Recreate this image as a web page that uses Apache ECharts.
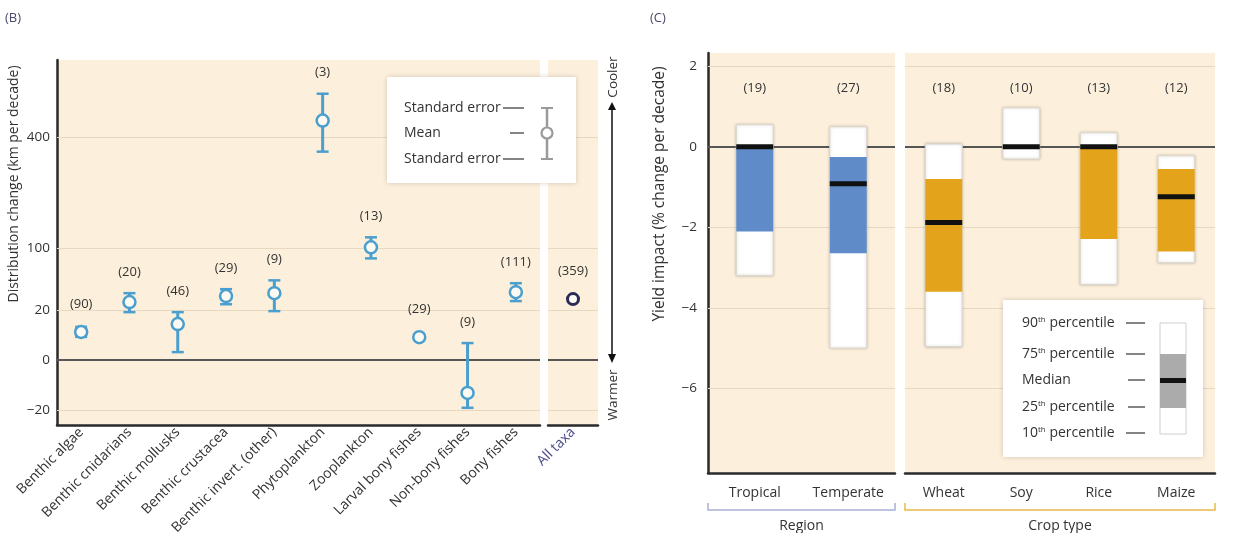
<!DOCTYPE html>
<html style="width: 100%;height:100%;">
<head>
    <meta charset="utf-8">
    <title>Distribution change and yield impact</title>
    <script src="https://cdn.jsdelivr.net/npm/echarts@6/dist/echarts.min.js"></script>
    <style>
        html, body { margin: 0; padding: 0; background: #ffffff; }
        #chart { width: 1240px; height: 533px; }
    </style>
</head>
<body>
<div id="chart"></div>
<script>
    // panel B: distribution change (km per decade), drawn on a signed sqrt scale
    const catsB = ['Benthic algae', 'Benthic cnidarians', 'Benthic mollusks', 'Benthic crustacea',
        'Benthic invert. (other)', 'Phytoplankton', 'Zooplankton', 'Larval bony fishes',
        'Non-bony fishes', 'Bony fishes'];
    const meanB = [6.3, 27, 10.4, 32.8, 35.9, 461, 102, 4.2, -8.7, 37];
    const seLowB = [4.3, 18.4, 0.5, 25, 19.2, 349, 83, 3.9, -18.4, 27.9];
    const seHighB = [8.8, 35.9, 18.4, 40.3, 51, 570, 121, 4.5, 2.3, 47.4];
    const countB = [90, 20, 46, 29, 9, 3, 13, 29, 9, 111];
    const catsAll = ['All taxa'];
    const meanAll = [29.8];
    const countAll = [359];
    const ticksB = [-20, 0, 20, 100, 400];

    // panel C: yield impact (% change per decade), percentiles
    const catsRegion = ['Tropical', 'Temperate'];
    const p10Region = [-3.2, -5.0];
    const p25Region = [-2.1, -2.64];
    const medRegion = [0, -0.92];
    const p75Region = [0, -0.25];
    const p90Region = [0.55, 0.5];
    const countRegion = [19, 27];
    const catsCrop = ['Wheat', 'Soy', 'Rice', 'Maize'];
    const p10Crop = [-4.96, -0.3, -3.42, -2.88];
    const p25Crop = [-3.6, -0.05, -2.29, -2.6];
    const medCrop = [-1.88, 0, 0, -1.24];
    const p75Crop = [-0.8, 0, 0, -0.55];
    const p90Crop = [0.07, 0.97, 0.35, -0.22];
    const countCrop = [18, 10, 13, 12];
    const ticksC = [-6, -4, -2, 0, 2];

    const FONT = '"Open Sans", "Noto Sans", sans-serif';
    const TXT = '#333333';
    const BLUE = '#4a9fcf';
    const NAVY = '#2b2b57';
    const BG = '#fcf0dc';
    const GRIDLINE = '#e6d9c0';

    const tr = v => Math.sign(v) * Math.sqrt(Math.abs(v));
    const minus = r => (r < 0 ? '\u2212' + (-r) : String(r));

    const chart = echarts.init(document.getElementById('chart'));

    function errItem(color) {
        return function (params, api) {
            const i = api.value(0);
            const pm = api.coord([i, api.value(1)]);
            const lo = api.coord([i, api.value(2)]);
            const hi = api.coord([i, api.value(3)]);
            const x = pm[0];
            const kids = [];
            if (lo[1] - hi[1] > 2) {
                kids.push({ type: 'line', shape: { x1: x, y1: lo[1], x2: x, y2: hi[1] }, style: { stroke: color, lineWidth: 3 } });
                kids.push({ type: 'line', shape: { x1: x - 6, y1: lo[1], x2: x + 6, y2: lo[1] }, style: { stroke: color, lineWidth: 2.5 } });
                kids.push({ type: 'line', shape: { x1: x - 6, y1: hi[1], x2: x + 6, y2: hi[1] }, style: { stroke: color, lineWidth: 2.5 } });
            }
            const top = Math.min(hi[1], pm[1] - 7);
            kids.push({
                type: 'text',
                style: {
                    text: '(' + api.value(4) + ')', x: x, y: top - 21, align: 'center', verticalAlign: 'middle',
                    fill: TXT, font: '13px ' + FONT
                }
            });
            return { type: 'group', children: kids };
        };
    }

    function boxItem(color) {
        return function (params, api) {
            const i = api.value(0);
            const x = api.coord([i, 0])[0];
            const y10 = api.coord([i, api.value(1)])[1];
            const y25 = api.coord([i, api.value(2)])[1];
            const ym = api.coord([i, api.value(3)])[1];
            const y75 = api.coord([i, api.value(4)])[1];
            const y90 = api.coord([i, api.value(5)])[1];
            const yc = api.coord([i, 1.45])[1];
            const w = 37;
            return {
                type: 'group',
                children: [
                    {
                        type: 'rect', shape: { x: x - w / 2, y: y90, width: w, height: y10 - y90 },
                        style: { fill: '#ffffff', stroke: '#dcd6cc', lineWidth: 1, shadowBlur: 3, shadowColor: 'rgba(0,0,0,0.22)' }
                    },
                    { type: 'rect', shape: { x: x - w / 2, y: y75, width: w, height: y25 - y75 }, style: { fill: color } },
                    { type: 'rect', shape: { x: x - w / 2, y: ym - 2.5, width: w, height: 5 }, style: { fill: '#111111' } },
                    {
                        type: 'text',
                        style: {
                            text: '(' + api.value(6) + ')', x: x, y: yc, align: 'center', verticalAlign: 'middle',
                            fill: TXT, font: '13px ' + FONT
                        }
                    }
                ]
            };
        };
    }

    function gridLines(ticks, zeroColor) {
        return {
            silent: true,
            z: 1,
            symbol: 'none',
            label: { show: false },
            animation: false,
            data: ticks.map(t => ({
                yAxis: t,
                lineStyle: t === 0 ? { color: zeroColor, width: 2, type: 'solid' } : { color: GRIDLINE, width: 1, type: 'solid' }
            }))
        };
    }

    const lineB = gridLines(ticksB.map(tr), '#555555');
    const lineC = gridLines(ticksC, '#555555');

    const yB = {
        type: 'value', min: -5.83, max: 26.9,
        splitLine: { show: false }, axisTick: { show: false }
    };
    const yC = {
        type: 'value', min: -8.1, max: 2.33,
        splitLine: { show: false }, axisTick: { show: false }
    };
    const axisDark = { show: true, onZero: false, lineStyle: { color: '#2a2a2a', width: 2.5 } };

    const legendTxt = (text, x, y) => ({
        type: 'text', z: 20, style: { text: text, x: x, y: y, verticalAlign: 'middle', fill: TXT, font: '14px ' + FONT }
    });
    const dash = (x1, x2, y) => ({
        type: 'line', z: 20, shape: { x1: x1, y1: y, x2: x2, y2: y }, style: { stroke: '#333', lineWidth: 1.2 }
    });
    const pctTxt = (num, y) => ({
        type: 'text', z: 20,
        style: {
            x: 1022, y: y, verticalAlign: 'middle',
            rich: {
                n: { fill: TXT, fontSize: 14, fontFamily: FONT },
                s: { fill: TXT, fontSize: 8, fontFamily: FONT, verticalAlign: 'top', padding: [0, 0, 7, 0] }
            },
            text: '{n|' + num + '}{s|th}{n| percentile}'
        }
    });

    const gridBase = { show: true, backgroundColor: BG, borderWidth: 0, containLabel: false, outerBoundsMode: 'none' };

    const option = {
        animation: false,
        textStyle: { fontFamily: FONT },
        grid: [
            Object.assign({ left: 57, top: 60, width: 483, height: 365 }, gridBase),
            Object.assign({ left: 548, top: 60, width: 50, height: 365 }, gridBase),
            Object.assign({ left: 708, top: 53, width: 187, height: 420 }, gridBase),
            Object.assign({ left: 905, top: 53, width: 310, height: 420 }, gridBase)
        ],
        xAxis: [
            {
                gridIndex: 0, type: 'category', data: catsB, axisLine: axisDark,
                axisTick: { alignWithLabel: true, length: 6, lineStyle: { color: '#333' } },
                axisLabel: { rotate: 45, fontSize: 14, color: TXT, margin: 5, interval: 0 }
            },
            {
                gridIndex: 1, type: 'category', data: catsAll, axisLine: axisDark,
                axisTick: { alignWithLabel: true, length: 6, lineStyle: { color: '#333' } },
                axisLabel: { rotate: 45, fontSize: 14, color: '#4a4a8c', margin: 5 }
            },
            {
                gridIndex: 2, type: 'category', data: catsRegion, axisLine: axisDark,
                axisTick: { length: 5, lineStyle: { color: '#333' } },
                axisLabel: { fontSize: 14, color: TXT, margin: 13 },
                name: 'Region', nameLocation: 'middle', nameGap: 46,
                nameTextStyle: { fontSize: 14, color: TXT }
            },
            {
                gridIndex: 3, type: 'category', data: catsCrop, axisLine: axisDark,
                axisTick: { length: 5, lineStyle: { color: '#333' } },
                axisLabel: { fontSize: 14, color: TXT, margin: 13 },
                name: 'Crop type', nameLocation: 'middle', nameGap: 46,
                nameTextStyle: { fontSize: 14, color: TXT }
            }
        ],
        yAxis: [
            Object.assign({}, yB, {
                gridIndex: 0, axisLine: axisDark,
                axisLabel: {
                    customValues: ticksB.map(tr), color: TXT, fontSize: 13.5, margin: 7,
                    formatter: v => minus(Math.round(Math.sign(v) * v * v))
                }
            }),
            Object.assign({}, yB, { gridIndex: 1, axisLine: { show: false }, axisLabel: { show: false } }),
            Object.assign({}, yC, {
                gridIndex: 2, axisLine: axisDark,
                axisLabel: { customValues: ticksC, color: TXT, fontSize: 13.5, margin: 11, formatter: v => minus(v) }
            }),
            Object.assign({}, yC, { gridIndex: 3, axisLine: { show: false }, axisLabel: { show: false } })
        ],
        series: [
            { type: 'line', xAxisIndex: 0, yAxisIndex: 0, data: [], z: 1, markLine: lineB },
            { type: 'line', xAxisIndex: 1, yAxisIndex: 1, data: [], z: 1, markLine: lineB },
            { type: 'line', xAxisIndex: 2, yAxisIndex: 2, data: [], z: 1, markLine: lineC },
            { type: 'line', xAxisIndex: 3, yAxisIndex: 3, data: [], z: 1, markLine: lineC },
            {
                type: 'custom', xAxisIndex: 0, yAxisIndex: 0, z: 3,
                renderItem: errItem(BLUE),
                encode: { x: 0, y: [1, 2, 3] },
                data: catsB.map((c, i) => [i, tr(meanB[i]), tr(seLowB[i]), tr(seHighB[i]), countB[i]])
            },
            {
                type: 'scatter', xAxisIndex: 0, yAxisIndex: 0, z: 4,
                symbol: 'circle', symbolSize: 12,
                itemStyle: { color: '#fdfaf3', borderColor: BLUE, borderWidth: 2.5, opacity: 1 },
                data: meanB.map((m, i) => [i, tr(m)])
            },
            {
                type: 'custom', xAxisIndex: 1, yAxisIndex: 1, z: 3,
                renderItem: errItem(NAVY),
                encode: { x: 0, y: [1, 2, 3] },
                data: catsAll.map((c, i) => [i, tr(meanAll[i]), tr(meanAll[i]), tr(meanAll[i]), countAll[i]])
            },
            {
                type: 'scatter', xAxisIndex: 1, yAxisIndex: 1, z: 4,
                symbol: 'circle', symbolSize: 11,
                itemStyle: { color: '#fdfaf3', borderColor: NAVY, borderWidth: 3, opacity: 1 },
                data: meanAll.map((m, i) => [i, tr(m)])
            },
            {
                type: 'custom', xAxisIndex: 2, yAxisIndex: 2, z: 3,
                renderItem: boxItem('#5f8bc8'),
                encode: { x: 0, y: [1, 5] },
                data: catsRegion.map((c, i) => [i, p10Region[i], p25Region[i], medRegion[i], p75Region[i], p90Region[i], countRegion[i]])
            },
            {
                type: 'custom', xAxisIndex: 3, yAxisIndex: 3, z: 3,
                renderItem: boxItem('#e3a31b'),
                encode: { x: 0, y: [1, 5] },
                data: catsCrop.map((c, i) => [i, p10Crop[i], p25Crop[i], medCrop[i], p75Crop[i], p90Crop[i], countCrop[i]])
            }
        ],
        graphic: [
            { type: 'text', z: 20, style: { text: '(B)', x: 5, y: 18, verticalAlign: 'middle', fill: '#4a4a6e', font: '13px ' + FONT } },
            { type: 'text', z: 20, style: { text: '(C)', x: 650, y: 18, verticalAlign: 'middle', fill: '#4a4a6e', font: '13px ' + FONT } },
            {
                type: 'text', z: 20, x: 14, y: 184, rotation: Math.PI / 2,
                style: { text: 'Distribution change (km per decade)', align: 'center', verticalAlign: 'middle', fill: TXT, font: '14px ' + FONT }
            },
            {
                type: 'text', z: 20, x: 660, y: 194, rotation: Math.PI / 2,
                style: { text: 'Yield impact (% change per decade)', align: 'center', verticalAlign: 'middle', fill: TXT, font: '15.5px ' + FONT }
            },
            // cooler / warmer arrow
            {
                type: 'text', z: 20, x: 613, y: 77, rotation: Math.PI / 2,
                style: { text: 'Cooler', align: 'center', verticalAlign: 'middle', fill: TXT, font: '13.5px ' + FONT }
            },
            {
                type: 'text', z: 20, x: 613, y: 395, rotation: Math.PI / 2,
                style: { text: 'Warmer', align: 'center', verticalAlign: 'middle', fill: TXT, font: '13.5px ' + FONT }
            },
            { type: 'line', z: 20, shape: { x1: 612, y1: 108, x2: 612, y2: 356 }, style: { stroke: '#111', lineWidth: 1.5 } },
            { type: 'polygon', z: 20, shape: { points: [[608, 110], [616, 110], [612, 102]] }, style: { fill: '#111' } },
            { type: 'polygon', z: 20, shape: { points: [[608, 354], [616, 354], [612, 363]] }, style: { fill: '#111' } },
            // legend B
            {
                type: 'rect', z: 15, shape: { x: 387, y: 77, width: 189, height: 106 },
                style: { fill: '#ffffff', shadowBlur: 5, shadowColor: 'rgba(0,0,0,0.18)' }
            },
            legendTxt('Standard error', 404, 108),
            legendTxt('Mean', 404, 133),
            legendTxt('Standard error', 404, 159),
            dash(503, 524, 108), dash(510, 524, 133), dash(503, 524, 159),
            { type: 'line', z: 20, shape: { x1: 547, y1: 108, x2: 547, y2: 159 }, style: { stroke: '#9a9a9a', lineWidth: 2.5 } },
            { type: 'line', z: 20, shape: { x1: 541, y1: 108, x2: 553, y2: 108 }, style: { stroke: '#9a9a9a', lineWidth: 2 } },
            { type: 'line', z: 20, shape: { x1: 541, y1: 159, x2: 553, y2: 159 }, style: { stroke: '#9a9a9a', lineWidth: 2 } },
            { type: 'circle', z: 21, shape: { cx: 547, cy: 133, r: 5.5 }, style: { fill: '#ffffff', stroke: '#9a9a9a', lineWidth: 2.2 } },
            // legend C
            {
                type: 'rect', z: 15, shape: { x: 1003, y: 300, width: 200, height: 157 },
                style: { fill: '#ffffff', shadowBlur: 5, shadowColor: 'rgba(0,0,0,0.18)' }
            },
            pctTxt('90', 323),
            pctTxt('75', 354),
            legendTxt('Median', 1022, 380),
            pctTxt('25', 407),
            pctTxt('10', 433),
            dash(1126, 1145, 323), dash(1126, 1145, 354), dash(1128, 1145, 380), dash(1128, 1145, 407), dash(1126, 1145, 433),
            {
                type: 'rect', z: 20, shape: { x: 1160, y: 323, width: 26, height: 111 },
                style: { fill: '#ffffff', stroke: '#cfcfcf', lineWidth: 1 }
            },
            { type: 'rect', z: 21, shape: { x: 1160, y: 354, width: 26, height: 54 }, style: { fill: '#ababab' } },
            { type: 'rect', z: 22, shape: { x: 1160, y: 378, width: 26, height: 5 }, style: { fill: '#111' } },
            // brackets under panel C
            {
                type: 'polyline', z: 20, shape: { points: [[708, 503], [708, 510], [895, 510], [895, 503]] },
                style: { stroke: '#a9b1d6', lineWidth: 1.5, fill: null }
            },
            {
                type: 'polyline', z: 20, shape: { points: [[905, 503], [905, 510], [1215, 510], [1215, 503]] },
                style: { stroke: '#e8b94a', lineWidth: 1.5, fill: null }
            }
        ]
    };

    chart.setOption(option);
</script>
</body>
</html>
